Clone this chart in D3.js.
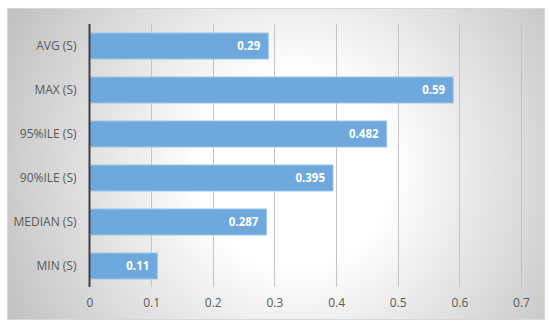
<!DOCTYPE html>
<html>
<head>
<meta charset="utf-8">
<script src="https://cdn.jsdelivr.net/npm/d3@7"></script>
<style>
  body { margin: 0; background: #fff; }
  svg { display: block; font-family: "Open Sans", sans-serif; }
</style>
</head>
<body>
<svg id="chart" width="550" height="327"></svg>
<script>
// chart data
var categories = ['AVG (S)', 'MAX (S)', '95%ILE (S)', '90%ILE (S)', 'MEDIAN (S)', 'MIN (S)'];
var values = [0.29, 0.59, 0.482, 0.395, 0.287, 0.11];
var labels = ['0.29', '0.59', '0.482', '0.395', '0.287', '0.11'];
var ticks = [0, 0.1, 0.2, 0.3, 0.4, 0.5, 0.6, 0.7];

var svg = d3.select('#chart');
var frame = { x: 7.5, y: 8.5, w: 537, h: 311 };
var plot = { left: 89.5, right: 521, top: 24, bottom: 288 };

// background: circular gradient, white in the middle, grey toward the corners
var defs = svg.append('defs');
var grad = defs.append('radialGradient')
  .attr('id', 'bg')
  .attr('gradientUnits', 'userSpaceOnUse')
  .attr('cx', 295).attr('cy', 170).attr('r', 320);
grad.append('stop').attr('offset', '0%').attr('stop-color', '#ffffff');
grad.append('stop').attr('offset', '30%').attr('stop-color', '#ffffff');
grad.append('stop').attr('offset', '100%').attr('stop-color', '#c2c2c2');

svg.append('rect')
  .attr('x', frame.x).attr('y', frame.y)
  .attr('width', frame.w).attr('height', frame.h)
  .attr('fill', 'url(#bg)')
  .attr('stroke', '#d6d6d6')
  .attr('stroke-width', 1);

var x = d3.scaleLinear().domain([0, 0.7]).range([plot.left, plot.right]);
var y = d3.scaleBand().domain(categories).range([plot.top, plot.bottom]).paddingInner(0.41).paddingOuter(0.205);

// vertical gridlines
svg.append('g')
  .selectAll('line')
  .data(ticks.slice(1))
  .enter()
  .append('line')
  .attr('x1', function(d) { return Math.round(x(d)) + 0.5; })
  .attr('x2', function(d) { return Math.round(x(d)) + 0.5; })
  .attr('y1', plot.top)
  .attr('y2', plot.bottom - 1)
  .attr('stroke', '#c4c4c4')
  .attr('stroke-width', 1);

// bars
var bars = svg.append('g')
  .selectAll('g')
  .data(categories)
  .enter()
  .append('g');

bars.append('rect')
  .attr('x', x(0))
  .attr('y', function(d) { return y(d); })
  .attr('width', function(d, i) { return x(values[i]) - x(0); })
  .attr('height', y.bandwidth())
  .attr('fill', '#6fa8dc')
  .attr('stroke', '#9cc4ea')
  .attr('stroke-width', 1);

bars.append('text')
  .attr('x', function(d, i) { return x(values[i]) - 8; })
  .attr('y', function(d) { return y(d) + y.bandwidth() / 2; })
  .attr('dy', '0.35em')
  .attr('text-anchor', 'end')
  .attr('fill', '#ffffff')
  .attr('font-weight', 'bold')
  .attr('font-size', '11.5px')
  .text(function(d, i) { return labels[i]; });

// category axis
var yAxis = svg.append('g')
  .attr('transform', 'translate(' + plot.left + ',0)')
  .call(d3.axisLeft(y).tickSize(0).tickPadding(13));
yAxis.select('.domain')
  .attr('stroke', '#404040')
  .attr('stroke-width', 2)
  .attr('d', 'M0,' + plot.top + 'V' + (plot.bottom - 1));
yAxis.selectAll('text')
  .attr('fill', '#595959')
  .attr('font-size', '12px')
  .attr('font-family', '"Open Sans", sans-serif');

// value axis labels
var xAxis = svg.append('g')
  .attr('transform', 'translate(0,' + plot.bottom + ')')
  .call(d3.axisBottom(x).tickValues(ticks).tickSize(0).tickPadding(10).tickFormat(d3.format('')));
xAxis.select('.domain').remove();
xAxis.selectAll('text')
  .attr('fill', '#595959')
  .attr('font-size', '12px')
  .attr('font-family', '"Open Sans", sans-serif');
</script>
</body>
</html>
